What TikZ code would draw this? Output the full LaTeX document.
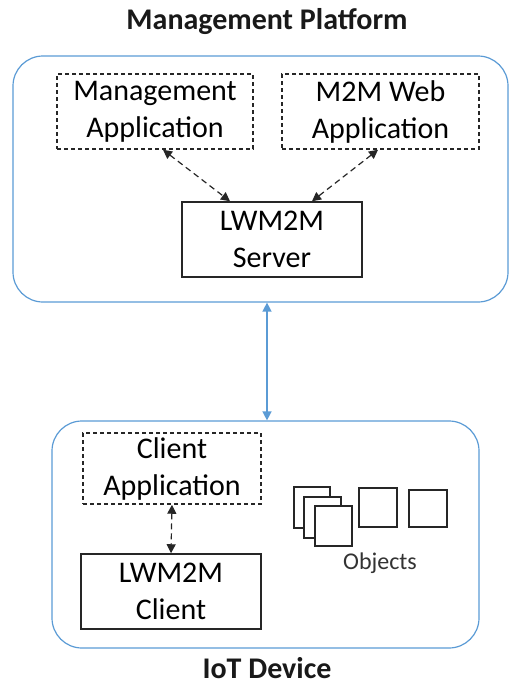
\documentclass[tikz,border=0pt]{standalone}
\usepackage{fontspec}
\setmainfont{Carlito}
\usetikzlibrary{arrows.meta,calc}
\definecolor{frameblue}{HTML}{5B9BD5}
\begin{document}
\begin{tikzpicture}[x=1pt,y=-1pt,
  frame/.style={draw=frameblue,line width=1.2pt,rounded corners=30pt,inner sep=0pt},
  solidbox/.style={draw=black!85,line width=1.5pt,inner sep=0pt,align=center,
    font=\fontsize{30}{37}\selectfont},
  dashbox/.style={solidbox,dash pattern=on 4pt off 3pt},
  objbox/.style={draw=black!85,line width=1.5pt,fill=white},
  dasharrow/.style={draw=black!85,line width=1.2pt,dash pattern=on 6pt off 4pt,
    {Triangle[length=9pt,width=9pt]}-{Triangle[length=9pt,width=9pt]}},
  bluearrow/.style={draw=frameblue,line width=1.4pt,
    {Triangle[length=9pt,width=9pt]}-{Triangle[length=9pt,width=9pt]}},
  title/.style={font=\fontsize{30}{36}\selectfont\bfseries,text=black!90,
    anchor=base,inner sep=0pt}]
\useasboundingbox (0,0) rectangle (510,686);

% platform side
\node[title] (ptitle) at (267,29) {Management Platform};
\node[frame,minimum width=495pt,minimum height=246pt] (platform) at (260.5,179) {};
\node[dashbox,minimum width=196pt,minimum height=75pt] (mgmtapp) at (155,111.5) {Management\\Application};
\node[dashbox,minimum width=197pt,minimum height=75pt] (webapp) at (380.5,111.5) {M2M Web\\Application};
\node[solidbox,minimum width=180pt,minimum height=75pt] (server) at (272,239.5) {LWM2M\\Server};
\draw[dasharrow] ($(mgmtapp.south)+(8,0)$) -- ($(server.north)+(-42,0)$);
\draw[dasharrow] ($(webapp.south)+(-2.5,0)$) -- ($(server.north)+(40,0)$);

% device side
\node[frame,minimum width=427pt,minimum height=227pt] (device) at (265.5,534.5) {};
\node[title] (dtitle) at (267,678) {IoT Device};
\node[dashbox,minimum width=178pt,minimum height=71pt] (clientapp) at (172,468.5) {Client\\Application};
\node[solidbox,minimum width=180pt,minimum height=75pt] (client) at (171,591.5) {LWM2M\\Client};
\draw[dasharrow] (clientapp.south) -- (client.north);

% objects
\draw[objbox] (294,487) rectangle (330,528);
\draw[objbox] (304,497) rectangle (341,538);
\draw[objbox] (315,506) rectangle (352,546);
\draw[objbox] (359,488) rectangle (397,527);
\draw[objbox] (409,490) rectangle (447,527);
\node[font=\fontsize{24}{28}\selectfont,text=black!80] (objects) at (380,563) {Objects};

% link between platform and device
\coordinate (link) at (267,0);
\draw[bluearrow] (link |- platform.south) -- (link |- device.north);
\end{tikzpicture}
\end{document}
